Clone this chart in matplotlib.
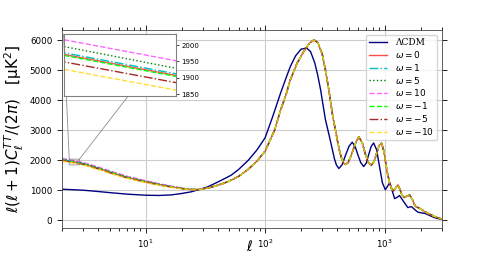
import matplotlib
matplotlib.use("Agg")
import matplotlib.pyplot as plt

# LCDM spectrum
lcdm_ell = [2, 2.5, 3, 3.76, 5, 7.1, 10, 13, 16.4, 20, 24, 28, 33, 38, 45, 52, 60,
            72, 85, 100, 115, 135, 150, 163, 180, 200, 222, 240, 260, 275, 291,
            305, 320, 340, 360, 380, 395, 414, 441, 470, 503, 535, 565, 597, 631,
            667, 701, 735, 771, 809, 856, 905, 957, 1013, 1057, 1104, 1156, 1211,
            1270, 1330, 1442, 1564, 1620, 1680, 1790, 1900, 2000, 2185, 2400,
            2640, 3000]
lcdm_dl = [1033, 1015, 1000, 967, 920, 867, 833, 825, 843, 890, 945, 1020, 1110,
           1225, 1370, 1500, 1690, 1990, 2330, 2747, 3420, 4247, 4750, 5133, 5480,
           5700, 5740, 5620, 5250, 4850, 4357, 3850, 3343, 2900, 2470, 2050, 1840,
           1723, 1850, 2160, 2460, 2600, 2470, 2180, 1920, 1790, 1900, 2180, 2460,
           2575, 2350, 1800, 1250, 1015, 1130, 1250, 990, 720, 760, 823, 620, 420,
           440, 450, 350, 267, 250, 223, 150, 80, 28]

# omega models: low multipoles differ, the rest is common
low_ell = [2, 2.3, 2.8, 3.1, 4, 5.14, 7, 10, 13, 16.4, 20, 24]
w0_low = [2018, 1972, 1907, 1865, 1735, 1590, 1430, 1285, 1190, 1115, 1060, 1025]
w1_low = [2023, 1977, 1912, 1870, 1739, 1594, 1434, 1288, 1193, 1117, 1061, 1025]
w5_low = [2042, 1996, 1929, 1887, 1756, 1610, 1448, 1301, 1204, 1125, 1066, 1027]
w10_low = [2063, 2017, 1952, 1909, 1777, 1630, 1467, 1318, 1218, 1135, 1072, 1030]
wm1_low = [2015, 1969, 1904, 1862, 1732, 1587, 1427, 1283, 1188, 1114, 1059, 1025]
wm5_low = [1995, 1949, 1885, 1843, 1714, 1570, 1412, 1269, 1176, 1105, 1054, 1023]
wm10_low = [1972, 1926, 1862, 1820, 1692, 1550, 1393, 1252, 1162, 1095, 1048, 1020]

high_ell = [28, 33, 38, 45, 52, 60, 72, 85, 100, 120, 135, 150, 163, 185, 211, 235,
            256, 276, 300, 320, 341, 356, 370, 388, 401, 420, 440, 455, 470, 495,
            530, 570, 607, 650, 690, 730, 775, 815, 860, 900, 943, 985, 1047, 1100,
            1150, 1186, 1230, 1290, 1340, 1400, 1450, 1530, 1620, 1700, 1800, 1900,
            2000, 2150, 2300, 2500, 2750, 3000]
high_dl = [1020, 1070, 1135, 1230, 1335, 1460, 1690, 1960, 2300, 3000, 3677, 4200,
           4690, 5230, 5633, 5900, 6010, 5920, 5550, 5000, 4357, 3850, 3400, 3010,
           2690, 2300, 2020, 1900, 1857, 1920, 2200, 2560, 2780, 2580, 2200, 1920,
           1833, 1950, 2250, 2500, 2567, 2300, 1633, 1250, 1020, 977, 1060, 1180,
           1030, 830, 747, 800, 840, 700, 470, 420, 380, 290, 230, 160, 90, 40]

labels = [r'$\omega=0$', r'$\omega=1$', r'$\omega=5$', r'$\omega=10$',
          r'$\omega=-1$', r'$\omega=-5$', r'$\omega=-10$']
lows = [w0_low, w1_low, w5_low, w10_low, wm1_low, wm5_low, wm10_low]
colors = ['red', 'c', 'g', 'magenta', 'lime', 'brown', 'gold']
dashes = ['-', '-.', ':', '--', '--', '-.', '--']
alphas = [0.7, 1.0, 1.0, 0.6, 1.0, 1.0, 0.8]

fig = plt.figure(figsize=(4.9, 2.57), dpi=100)
ax = fig.add_axes([0.1265, 0.1128, 0.7749, 0.7705])
axins = ax.inset_axes([0.004, 0.668, 0.297, 0.313])

for a in (ax, axins):
    a.plot(lcdm_ell, lcdm_dl, color='navy', lw=1, label='ΛCDM')
    for low, lab, c, ls, al in zip(lows, labels, colors, dashes, alphas):
        a.plot(low_ell + high_ell, low + high_dl, color=c, ls=ls, lw=1,
               alpha=al, label=lab)

ax.set_xscale('log')
ax.set_xlim(2, 3000)
ax.set_ylim(-260, 6340)
ax.set_yticks([0, 1000, 2000, 3000, 4000, 5000, 6000])
ax.grid(True, color='#cccccc', lw=0.8)
ax.tick_params(which='both', top=True, right=True, labelsize=6.3, width=0.6)
ax.tick_params(which='major', length=3.5)
ax.tick_params(which='minor', length=2)
for s in ax.spines.values():
    s.set_linewidth(0.6)
    s.set_color('#444444')
ax.set_xlabel(r'$\ell$', fontsize=10)
ax.xaxis.set_label_coords(0.495, -0.055)
ax.set_ylabel(r'$\ell(\ell+1)C_\ell^{TT}/(2\pi)$   [μK$^2$]', fontsize=11,
              labelpad=3)

leg = ax.legend(loc='upper right', fontsize=6.5, framealpha=0.8,
                labelspacing=0.2, borderpad=0.4)
leg.get_texts()[0].set_family('DejaVu Serif')

axins.set_xscale('log')
axins.set_xlim(2.3, 2.8)
axins.set_ylim(1845, 2035)
axins.set_yticks([1850, 1900, 1950, 2000])
axins.set_xticks([])
axins.minorticks_off()
axins.yaxis.tick_right()
axins.tick_params(labelsize=5, length=2, width=0.5, pad=1.5)
for s in axins.spines.values():
    s.set_color('gray')
    s.set_linewidth(0.8)
ax.indicate_inset_zoom(axins, edgecolor='gray', alpha=0.9, lw=0.6)

fig.savefig('out.png', dpi=100)
